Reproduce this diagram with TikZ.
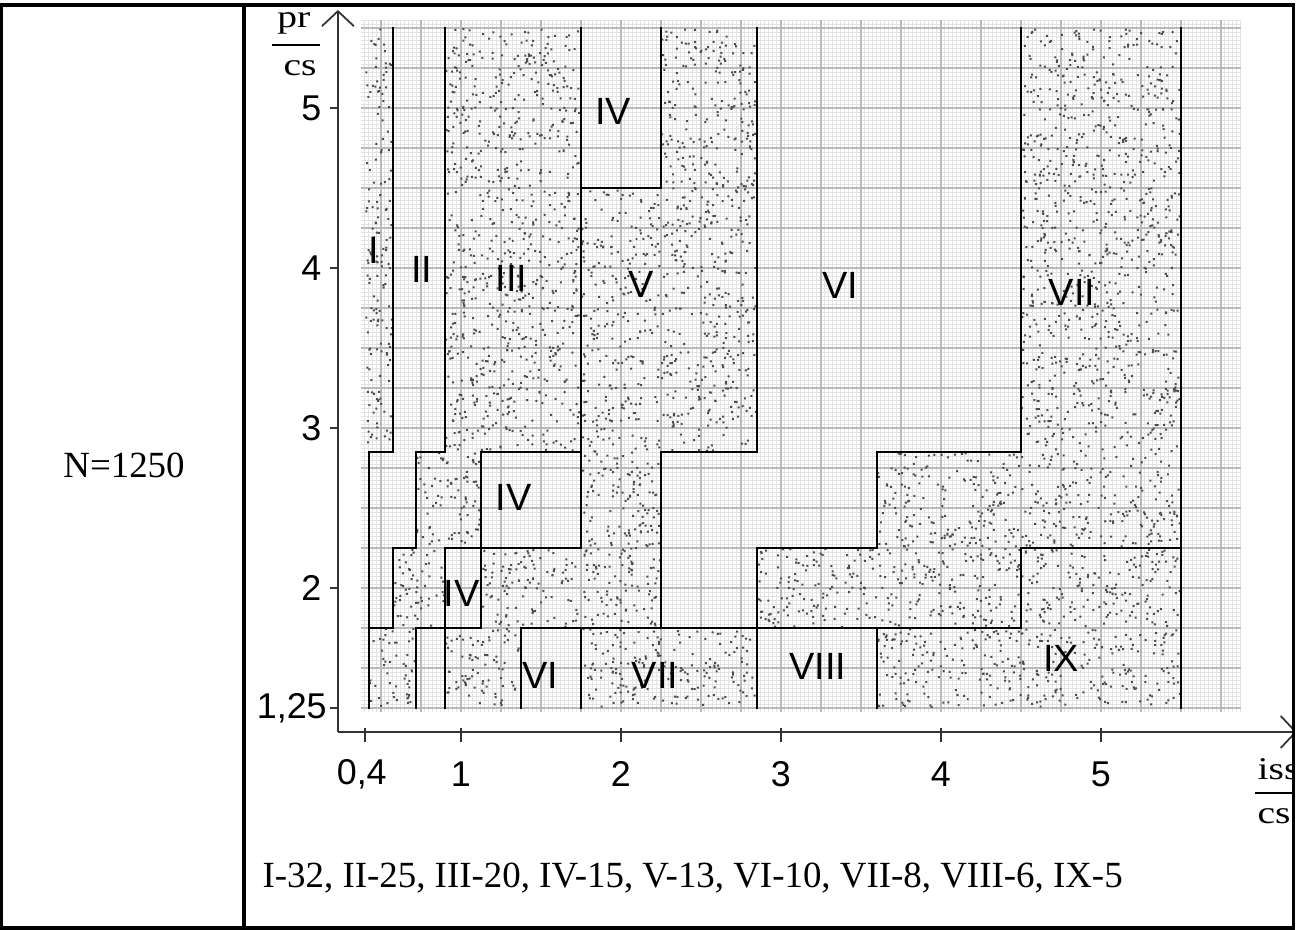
\documentclass[tikz,border=0pt]{standalone}
\usepackage{fontspec}
\setmainfont{Liberation Serif}
\newfontfamily\arialf{Liberation Sans}
\usepackage{graphicx}
\usetikzlibrary{arrows.meta}

\tikzset{
  frame/.style={line width=0.9pt},
  finegrid/.style={gray!22, line width=0.3pt},
  midgrid/.style={gray!55, line width=0.45pt},
  zone/.style={line width=0.7pt, line cap=rect},
  axis/.style={black!80, line width=0.5pt},
  barb/.style={-{Straight Barb[length=1.5mm,width=3.2mm]}},
  speck/.style={black!70},
  zonelbl/.style={font=\arialf\fontsize{10.8}{12}\selectfont, inner sep=0pt},
  ticklbl/.style={font=\arialf\fontsize{10.2}{12}\selectfont, inner sep=0pt},
  celltxt/.style={font=\fontsize{10.5}{12}\selectfont, inner sep=0pt},
  unittxt/.style={font=\fontsize{9}{10}\selectfont, inner sep=0pt, anchor=base},
}
\newcommand{\wide}[1]{\scalebox{1.25}[1]{#1}}

\begin{document}
\begin{tikzpicture}[x=1.6cm,y=1.6cm]
\useasboundingbox (-1.881,-0.1375) rectangle (6.244,5.675);

% left cell and legend
\node[celltxt, anchor=base] (size) at (-1.106,2.6875) {N=1250};
\node[celltxt, anchor=base west] (legend) at (-0.244,0.125)
  {I-32, II-25, III-20, IV-15, V-13, VI-10, VII-8, VIII-6, IX-5};

\begin{scope}
\clip (-0.356,-0.125) rectangle (6.206,5.644);

% grid paper
\draw[finegrid, step=0.025] (0.375,1.225) grid (5.875,5.55);
\draw[midgrid, step=0.25] (0.375,1.225) grid (5.875,5.55);

% stippled zones: I, III, V, VII, IX
\pgfmathsetseed{1250}
\foreach \xa/\ya/\xb/\yb/\n in {0.4/2.85/0.575/5.5/158, 0.9/2.85/1.75/5.5/766,
    0.72/2.25/1.125/2.85/83, 0.575/1.75/0.9/2.25/55, 0.425/1.25/0.72/1.75/50,
    1.75/1.75/2.25/4.5/468, 2.25/2.85/2.85/5.5/541, 1.125/1.75/1.75/2.25/106,
    0.9/1.25/1.375/1.75/81, 4.5/2.25/5.5/5.5/1105, 3.6/2.25/4.5/2.85/184,
    2.85/1.75/4.5/2.25/281, 1.75/1.25/2.85/1.75/187, 3.6/1.25/5.5/1.75/323,
    4.5/1.75/5.5/2.25/170}
  \fill[speck] \foreach \k in {1,...,\n}
    {({\xa+rnd*(\xb-\xa-0.0125)},{\ya+rnd*(\yb-\ya-0.0125)}) rectangle ++(0.0125,0.0125)};

% zone borders
\draw[zone] (0.575,5.5) -- (0.575,2.85) -- (0.425,2.85) -- (0.425,1.25);
\draw[zone] (0.9,5.5) -- (0.9,2.85) -- (0.72,2.85) -- (0.72,2.25) -- (0.575,2.25) -- (0.575,1.75) -- (0.425,1.75);
\draw[zone] (1.75,2.85) -- (1.125,2.85) -- (1.125,1.75) -- (0.72,1.75) -- (0.72,1.25);
\draw[zone] (1.75,5.5) -- (1.75,2.25) -- (0.9,2.25) -- (0.9,1.25);
\draw[zone] (2.25,5.5) -- (2.25,4.5) -- (1.75,4.5);
\draw[zone] (2.85,5.5) -- (2.85,2.85) -- (2.25,2.85) -- (2.25,1.75);
\draw[zone] (1.375,1.25) -- (1.375,1.75) -- (4.5,1.75) -- (4.5,2.25) -- (5.5,2.25);
\draw[zone] (4.5,5.5) -- (4.5,2.85) -- (3.6,2.85) -- (3.6,2.25) -- (2.85,2.25) -- (2.85,1.25);
\draw[zone] (1.75,1.75) -- (1.75,1.25);
\draw[zone] (3.6,1.75) -- (3.6,1.25);
\draw[zone] (5.5,5.5) -- (5.5,1.25);

% zone numbers
\node[zonelbl] (zI) at (0.452,4.11) {I};
\node[zonelbl] (zII) at (0.754,3.99) {II};
\node[zonelbl] (zIII) at (1.317,3.935) {III};
\node[zonelbl] (zIVa) at (1.952,4.977) {IV};
\node[zonelbl] (zV) at (2.125,3.9) {V};
\node[zonelbl] (zVIa) at (3.37,3.89) {VI};
\node[zonelbl] (zVIIa) at (4.82,3.85) {VII};
\node[zonelbl] (zIVb) at (1.331,2.567) {IV};
\node[zonelbl] (zIVc) at (1.004,1.967) {IV};
\node[zonelbl] (zVIb) at (1.494,1.456) {VI};
\node[zonelbl] (zVIIb) at (2.213,1.456) {VII};
\node[zonelbl] (zVIII) at (3.23,1.51) {VIII};
\node[zonelbl] (zIX) at (4.75,1.5625) {IX};

% axes
\coordinate (O) at (0.231,1.1);
\coordinate (ytip) at (0.231,5.6125);
\coordinate (xtip) at (6.225,1.1);
\draw[axis, barb] (O) -- (ytip);
\draw[axis, barb] (O) -- (xtip);
\foreach \t in {2,3,4,5} {
  \draw[axis] (0.181,\t) -- (0.231,\t);
  \node[ticklbl, anchor=east] (y\t) at (0.131,\t) {\t};
}
\draw[axis] (0.181,1.25) -- (0.231,1.25);
\node[ticklbl, anchor=east] (y125) at (0.165,1.25) {1,25};
\foreach \t in {0.4,1,2,3,4,5}
  \draw[axis] (\t,1.125) -- (\t,1.0375);
\node[ticklbl] (x04) at (0.38,0.8375) {0,4};
\foreach \t in {1,...,5}
  \node[ticklbl] (x\t) at (\t,0.8375) {\t};

% axis units
\node[unittxt] (ynum) at (-0.044,5.506) {\wide{pr}};
\draw[line width=0.6pt] (-0.181,5.394) -- (0.119,5.394);
\node[unittxt] (yden) at (-0.006,5.206) {\wide{cs}};
\node[unittxt, anchor=base west] (xnum) at (5.975,0.8) {\wide{iss}};
\draw[line width=0.6pt] (5.9625,0.719) -- (6.3,0.719);
\node[unittxt, anchor=base west] (xden) at (5.975,0.531) {\wide{cs}};
\end{scope}

% table frame
\draw[frame] (-1.869,-0.125) rectangle (6.206,5.644);
\draw[frame] (-0.356,-0.125) -- (-0.356,5.644);
\end{tikzpicture}
\end{document}
